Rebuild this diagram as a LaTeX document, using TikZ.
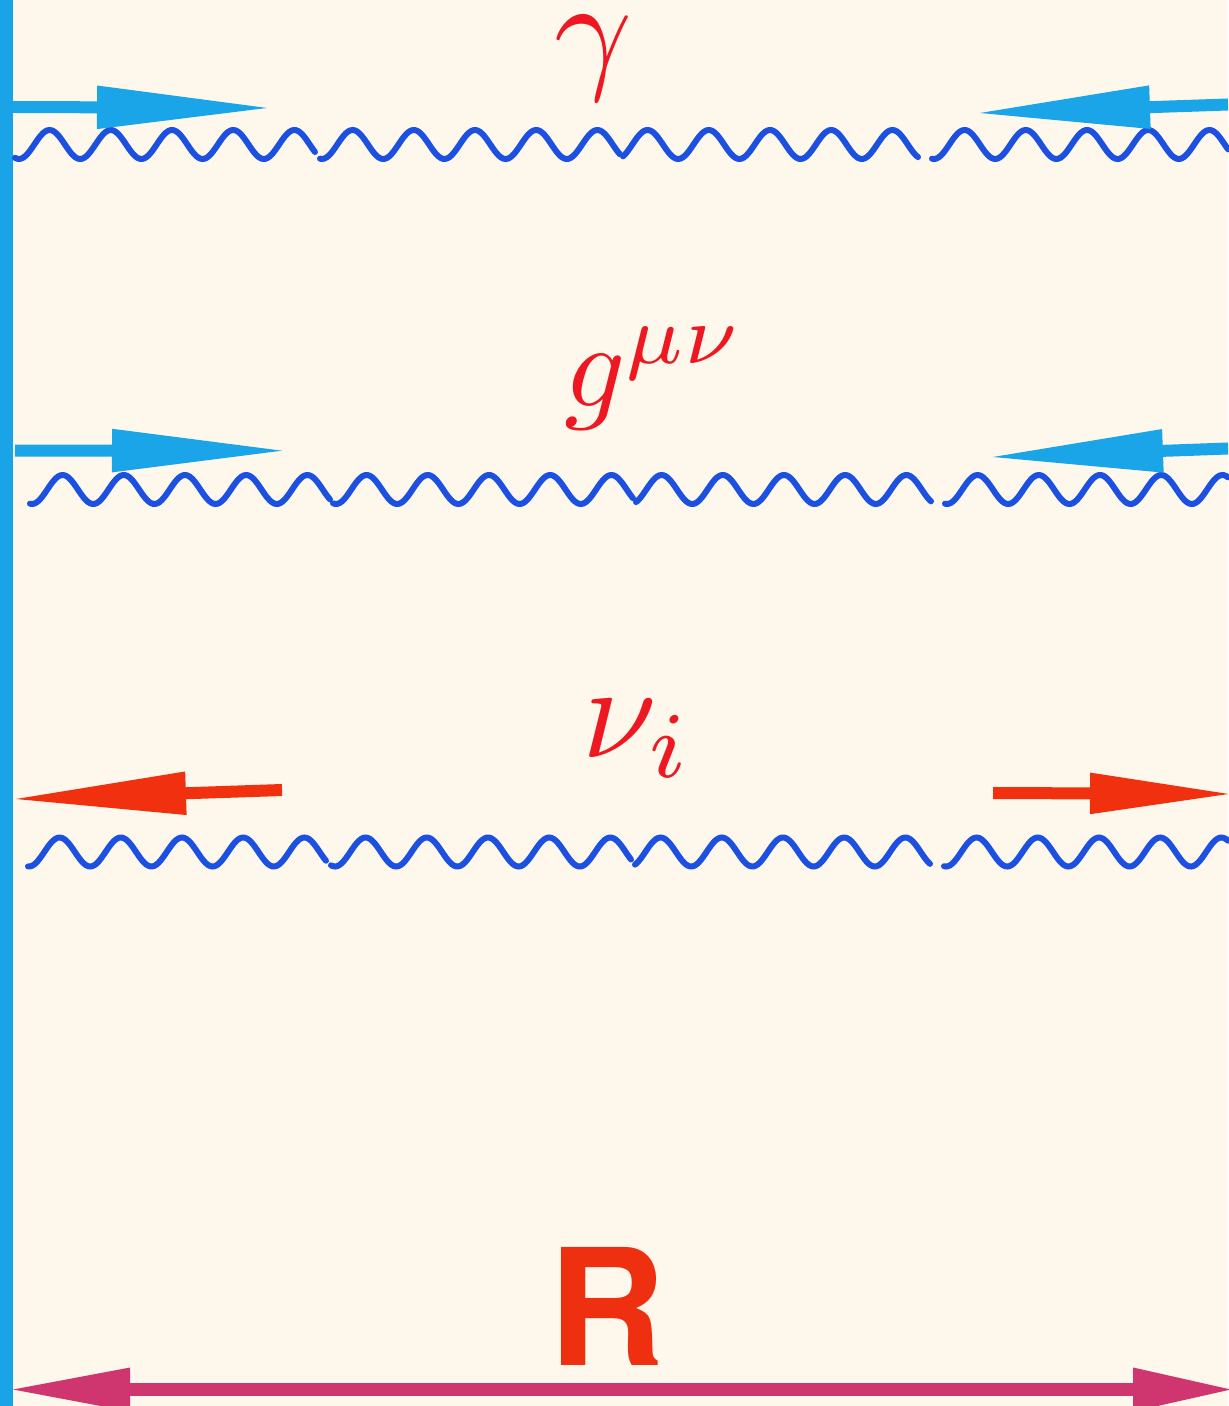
\documentclass[tikz,border=0pt]{standalone}
\usepackage{fontspec}
\newfontfamily\Rfont{TeX Gyre Heros}
\usetikzlibrary{arrows.meta}
\definecolor{bg}{HTML}{FDF8EB}
\definecolor{barblue}{HTML}{18A4E7}
\definecolor{wavec}{HTML}{1C50E0}
\definecolor{arrblue}{HTML}{1AA5E8}
\definecolor{arrred}{HTML}{F0300F}
\definecolor{labred}{HTML}{EE1822}
\definecolor{Rred}{HTML}{EF3010}
\definecolor{dimc}{HTML}{CF356F}
\newcommand\wseg[4]{\draw[wave] plot[domain=#2:#3, samples=140, smooth, variable=\t] (\t, {#4 + 14.5*cos(5.88235*(\t-#1))});}
\begin{document}
\begin{tikzpicture}[x=0.5pt,y=-0.5pt,
  wave/.style={draw=wavec, line width=3pt, line cap=round},
  bluearr/.style={draw=arrblue, line width=6pt, -{Triangle[length=88pt,width=20pt]}},
  redarr/.style={draw=arrred, line width=6pt, -{Triangle[length=88pt,width=20pt]}},
  lab/.style={inner sep=0pt, text=labred, anchor=base}]
\fill[bg] (0,0) rectangle (1228,1406);
\useasboundingbox (0,0) rectangle (1228,1406);
% left bar
\fill[barblue] (0,0) rectangle (13,1406);
% row 1 waves
\wseg{19}{15}{315}{144.5}
\wseg{322}{320}{620}{144.5}
\wseg{617}{623}{918}{144.5}
\wseg{934}{932}{1228}{144.5}
% row 2 waves
\wseg{32}{30}{330}{489.5}
\wseg{336}{333}{633}{489.5}
\wseg{631}{636}{931}{489.5}
\wseg{947}{945}{1228}{489.5}
% row 3 waves
\wseg{29}{28}{326}{852}
\wseg{335}{331}{631}{852}
\wseg{630}{635}{930}{852}
\wseg{946}{944}{1228}{852}
% arrows
\coordinate (a1s) at (13,107);
\coordinate (a1e) at (273,108);
\coordinate (b1s) at (1228,104.5);
\coordinate (b1e) at (974,113.2);
\coordinate (a2s) at (15,450.5);
\coordinate (a2e) at (288,450.7);
\coordinate (b2s) at (1228,448.5);
\coordinate (b2e) at (987,457.2);
\coordinate (a3s) at (282,790);
\coordinate (a3e) at (10,799.2);
\coordinate (b3s) at (993,793);
\coordinate (b3e) at (1234,794);
\draw[bluearr] (a1s) -- (a1e);
\draw[bluearr] (b1s) -- (b1e);
\draw[bluearr] (a2s) -- (a2e);
\draw[bluearr] (b2s) -- (b2e);
\draw[redarr] (a3s) -- (a3e);
\draw[draw=arrred, line width=6pt, -{Triangle[length=72pt,width=19pt]}] (b3s) -- (b3e);
% dimension arrow
\coordinate (dl) at (8,1389.5);
\coordinate (dr) at (1235,1389.5);
\draw[draw=dimc, line width=6.5pt, {Triangle[length=61pt,width=20pt]}-{Triangle[length=51pt,width=20pt]}] (dl) -- (dr);
% labels
\node[lab, scale=6.8] (gam) at (593,75) {$\gamma$};
\node[lab, scale=6] (gmn) at (654,407) {$g^{\mu\nu}$};
\node[lab, scale=6.7] (nui) at (638,757) {$\nu_i$};
\node[inner sep=0pt, anchor=base, font=\Rfont\bfseries\fontsize{81}{81}\selectfont, text=Rred] (R) at (607,1365) {R};
\end{tikzpicture}
\end{document}
